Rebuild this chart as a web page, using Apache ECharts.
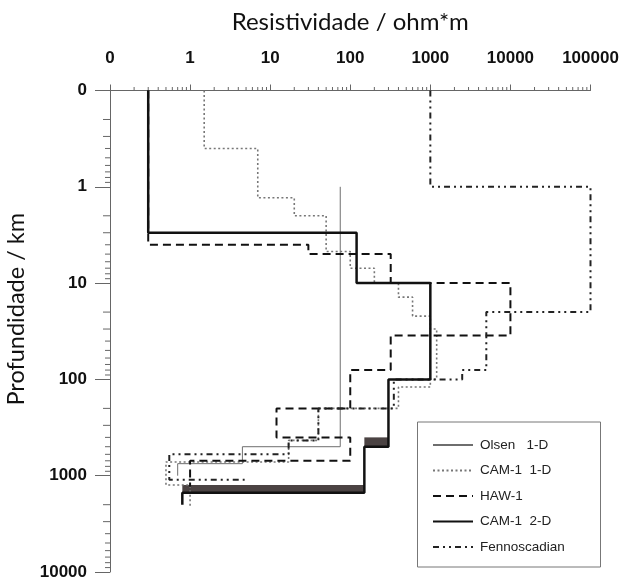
<!DOCTYPE html>
<html>
<head>
<meta charset="utf-8">
<script src="https://cdn.jsdelivr.net/npm/echarts@6/dist/echarts.min.js"></script>
<style>
  html, body { margin: 0; padding: 0; background: #fff; }
  #chart { width: 625px; height: 578px; }
</style>
</head>
<body>
<div id="chart"></div>
<script>
// tick labels (the first one stands at 0.1)
const xTickLabels = ['0', '1', '10', '100', '1000', '10000', '100000']
const yTickLabels = ['0', '1', '10', '100', '1000', '10000']
const minorSteps = [2, 3, 4, 5, 6, 7, 8, 9]
const xDecades = [0.1, 1, 10, 100, 1000, 10000]
const yDecades = [0.1, 1, 10, 100, 1000]

// layered models: resistivity (ohm*m) of each layer + depth of the boundaries (km)
const olsenRho = [75, 4.5, 0.7]
const olsenDepth = [1, 500, 750, 1000]

const cam1dRho = [1.5, 7, 20, 50, 100, 200, 400, 600, 1000, 1200, 1000, 400, 40, 17, 0.5, 1]
const cam1dDepth = [0.1, 0.4, 1.3, 2, 4.7, 7, 10, 14, 22, 30, 100, 120, 200, 430, 720, 1250, 2100]

const hawRho = [0.3, 30, 320, 10000, 320, 100, 12, 100, 1]
const hawDepth = [0.1, 4, 5, 10, 35, 80, 200, 400, 700, 1300]

const cam2dRho = [0.3, 120, 1000, 300, 150, 0.8]
const cam2dDepth = [0.1, 3, 10, 100, 500, 1500, 2000]

const fennoRho = [1000, 100000, 5000, 2500, 350, 40, 17, 0.55, 4.8]
const fennoDepth = [0.1, 1, 20, 80, 100, 200, 430, 600, 1100, 1100]

// shaded bands under the CAM-1 2-D steps
const bandRho = [[150, 300], [0.8, 150]]
const bandDepth = [[400, 500], [1250, 1500]]

function steps(rho, depth) {
  const pts = []
  rho.forEach((r, i) => {
    pts.push([r, depth[i]])
    pts.push([r, depth[i + 1]])
  })
  return pts
}

const xMinor = []
xDecades.forEach(d => minorSteps.forEach(m => xMinor.push([d * m, 0.1])))
const yMinor = []
yDecades.forEach(d => minorSteps.forEach(m => yMinor.push([0.1, d * m, m])))

const axisColor = '#666'
const labelFont = { fontFamily: 'Liberation Sans', fontWeight: 'bold', fontSize: 17, color: '#111' }

const chart = echarts.init(document.getElementById('chart'))

chart.setOption({
  animation: false,
  backgroundColor: '#fff',
  grid: { left: 110, right: 34.5, top: 90.5, bottom: 6, containLabel: false, outerBoundsMode: 'none' },
  graphic: [
    {
      type: 'rect',
      shape: { x: 417.5, y: 422, width: 183, height: 145 },
      style: { fill: '#fff', stroke: '#777', lineWidth: 1 },
      z: 50
    }
  ],
  legend: {
    data: ['Olsen   1-D', 'CAM-1  1-D', 'HAW-1', 'CAM-1  2-D', 'Fennoscadian'],
    orient: 'vertical',
    left: 432,
    top: 438,
    padding: 0,
    itemWidth: 40,
    itemHeight: 14,
    itemGap: 11.5,
    z: 60,
    itemStyle: { opacity: 0 },
    textStyle: { fontFamily: 'Liberation Sans', fontSize: 13.5, color: '#222', padding: [0, 0, 0, 2] }
  },
  xAxis: {
    type: 'log',
    logBase: 10,
    position: 'top',
    min: 0.1,
    max: 100000,
    splitNumber: 6,
    name: 'Resistividade / ohm*m',
    nameLocation: 'middle',
    nameGap: 56,
    nameTextStyle: { fontFamily: 'Lato', fontSize: 24, color: '#111' },
    axisLine: { show: true, lineStyle: { color: axisColor, width: 1 } },
    axisTick: { show: true, length: 6, lineStyle: { color: axisColor } },
    axisLabel: Object.assign({ margin: 24, formatter: (v, i) => xTickLabels[i] }, labelFont),
    splitLine: { show: false }
  },
  yAxis: {
    type: 'log',
    logBase: 10,
    inverse: true,
    min: 0.1,
    max: 10000,
    splitNumber: 5,
    name: 'Profundidade / km',
    nameLocation: 'middle',
    nameGap: 75,
    nameTextStyle: { fontFamily: 'Lato', fontSize: 23.5, color: '#111', padding: [0, 0, 0, 44] },
    axisLine: { show: true, lineStyle: { color: axisColor, width: 1 } },
    axisTick: { show: true, length: 15, lineStyle: { color: axisColor } },
    axisLabel: Object.assign({ margin: 23, formatter: (v, i) => yTickLabels[i] }, labelFont),
    splitLine: { show: false }
  },
  series: [
    {
      name: 'xMinor',
      type: 'custom',
      silent: true,
      clip: false,
      data: xMinor,
      renderItem: (params, api) => {
        const p = api.coord([api.value(0), api.value(1)])
        return { type: 'line', shape: { x1: p[0], y1: p[1], x2: p[0], y2: p[1] - 3.5 }, style: { stroke: axisColor, lineWidth: 1 } }
      }
    },
    {
      name: 'yMinor',
      type: 'custom',
      silent: true,
      clip: false,
      data: yMinor,
      renderItem: (params, api) => {
        const p = api.coord([api.value(0), api.value(1)])
        const len = api.value(2) <= 3 ? 7 : 5
        return { type: 'line', shape: { x1: p[0], y1: p[1], x2: p[0] - len, y2: p[1] }, style: { stroke: axisColor, lineWidth: 1 } }
      }
    },
    {
      name: 'band',
      type: 'custom',
      silent: true,
      data: bandRho.map((r, i) => [r[0], bandDepth[i][0], r[1], bandDepth[i][1]]),
      renderItem: (params, api) => {
        const p0 = api.coord([api.value(0), api.value(1)])
        const p1 = api.coord([api.value(2), api.value(3)])
        return { type: 'rect', shape: { x: p0[0], y: p0[1], width: p1[0] - p0[0], height: p1[1] - p0[1] }, style: { fill: '#4b4343' } }
      },
      z: 1
    },
    {
      name: 'Olsen   1-D',
      type: 'line',
      data: steps(olsenRho, olsenDepth),
      symbol: 'none',
      lineStyle: { color: '#6e6e6e', width: 1 },
      itemStyle: { color: '#6e6e6e' },
      z: 2
    },
    {
      name: 'CAM-1  1-D',
      type: 'line',
      data: steps(cam1dRho, cam1dDepth),
      symbol: 'none',
      lineStyle: { color: '#777', width: 1.6, type: [2, 2.5] },
      itemStyle: { color: '#777' },
      z: 3
    },
    {
      name: 'HAW-1',
      type: 'line',
      data: steps(hawRho, hawDepth),
      symbol: 'none',
      lineStyle: { color: '#111', width: 2, type: [8, 5] },
      itemStyle: { color: '#111' },
      z: 4
    },
    {
      name: 'CAM-1  2-D',
      type: 'line',
      data: steps(cam2dRho, cam2dDepth),
      symbol: 'none',
      lineStyle: { color: '#111', width: 2.5 },
      itemStyle: { color: '#111' },
      z: 5
    },
    {
      name: 'Fennoscadian',
      type: 'line',
      data: steps(fennoRho, fennoDepth),
      symbol: 'none',
      lineStyle: { color: '#222', width: 2, type: [6, 4, 2, 4, 2, 4] },
      itemStyle: { color: '#222' },
      z: 4
    }
  ]
})
</script>
</body>
</html>
